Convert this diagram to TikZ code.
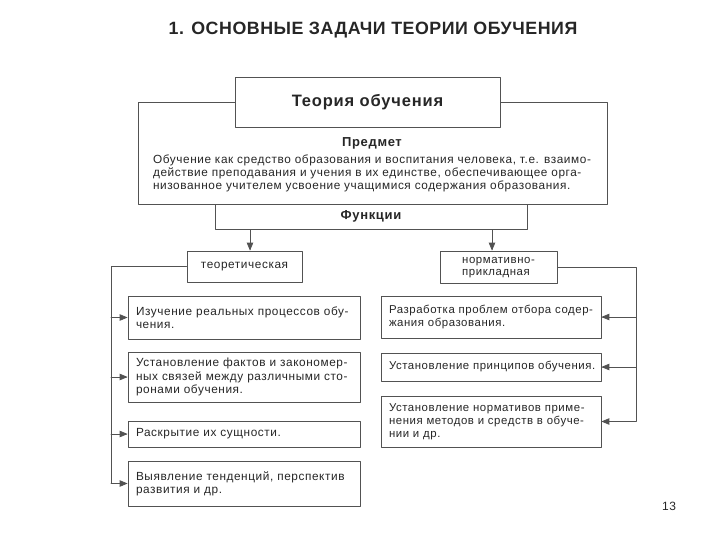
\documentclass[tikz,border=0pt]{standalone}
\usepackage{fontspec}
\setmainfont{Liberation Sans}[LetterSpace=5]
\newfontfamily\headfont{Liberation Sans}[LetterSpace=3]
\usepackage{tikz}
\usetikzlibrary{arrows}
\usetikzlibrary{arrows.meta,calc}
\definecolor{linegray}{gray}{0.32}
\definecolor{inkgray}{gray}{0.15}
\tikzset{
  box/.style={draw=linegray,line width=0.9pt,fill=white,inner sep=0pt,text=inkgray,
    font=\fontsize{11.8}{13.2}\selectfont},
  leftbox/.style={box,align=left,inner xsep=8pt,text width=216pt},
  rightbox/.style={box,align=left,inner xsep=3pt,text width=214pt,
    font=\fontsize{11.4}{13.2}\selectfont,execute at begin node={\leftskip=5pt}},
  link/.style={draw=linegray,line width=0.8pt},
  arr/.style={link,->}
}

\begin{document}
\begin{tikzpicture}[line cap=round,line join=round,>=triangle 45,x=1pt,y=-1pt]
  \useasboundingbox (0,0) rectangle (720,540);
  % title
  \node[text=inkgray,font=\headfont\fontsize{17.8}{20}\selectfont\bfseries] (title) at (373,30) {1. ОСНОВНЫЕ ЗАДАЧИ ТЕОРИИ ОБУЧЕНИЯ};
  % subject box, then the main box over it
  \node[box,minimum width=469pt,minimum height=102pt] (predmet) at (372.5,153) {};
  \node[box,minimum width=265pt,minimum height=50pt,font=\fontsize{16.5}{18}\selectfont\bfseries] (teoria) at (367.5,102) {Теория обучения};
  \node[text=inkgray,font=\fontsize{13}{14}\selectfont\bfseries] (predmettitle) at (372,143) {Предмет};
  \node[text=inkgray,align=left,inner sep=0pt,font=\fontsize{11.8}{13}\selectfont] (predmettext) at (372,173)
    {Обучение как средство образования и воспитания человека, т.е. взаимо-\\
     действие преподавания и учения в их единстве, обеспечивающее орга-\\
     низованное учителем усвоение учащимися содержания образования.};
  \node[box,minimum width=312pt,minimum height=25pt,font=\fontsize{13}{14}\selectfont\bfseries] (funkcii) at (371,216.5) {Функции};
  \node[box,minimum width=115pt,minimum height=31pt] (teor) at (244.5,266.5) {теоретическая};
  \node[box,minimum width=117pt,minimum height=32pt,align=left,font=\fontsize{11.4}{12}\selectfont] (norm) at (498.5,267) {\strut нормативно-\\прикладная\rule[-3pt]{0pt}{3pt}};
  % left column
  \node[leftbox,minimum height=43pt] (l1) at (244,317.5) {Изучение реальных процессов обу-\\чения.};
  \node[leftbox,minimum height=50pt] (l2) at (244,377) {Установление фактов и закономер-\\ных связей между различными сто-\\ронами обучения.};
  \node[leftbox,minimum height=26pt] (l3) at (244,434) {Раскрытие их сущности.};
  \node[leftbox,minimum height=45pt] (l4) at (244,483.5) {Выявление тенденций, перспектив\\развития и др.};
  % right column
  \node[rightbox,minimum height=42pt] (r1) at (491,317) {Разработка проблем отбора содер-\\жания образования.};
  \node[rightbox,minimum height=28pt] (r2) at (491,367) {Установление принципов обучения.};
  \node[rightbox,minimum height=51pt] (r3) at (491,421.5) {Установление нормативов приме-\\нения методов и средств в обуче-\\нии и др.};
  \node[text=inkgray,font=\fontsize{12}{13}\selectfont] (page) at (669,506) {13};
  % connectors
  \coordinate (tarr) at (250,0);
  \coordinate (narr) at (492,0);
  \coordinate (lbus) at (111,0);
  \coordinate (rbus) at (636,0);
  \draw[arr] (funkcii.south -| tarr) -- (teor.north -| tarr);
  \draw[arr] (funkcii.south -| narr) -- (norm.north -| narr);
  \draw[link] (teor.west) -- (teor.west -| lbus) -- (lbus |- l4.west);
  \draw[link] (norm.east) -- (norm.east -| rbus) -- (rbus |- r3.east);
  \foreach \b in {l1,l2,l3,l4}
    \draw[arr] (lbus |- \b.west) -- (\b.west);
  \foreach \b in {r1,r2,r3}
    \draw[arr] (rbus |- \b.east) -- (\b.east);
\end{tikzpicture}
\end{document}
